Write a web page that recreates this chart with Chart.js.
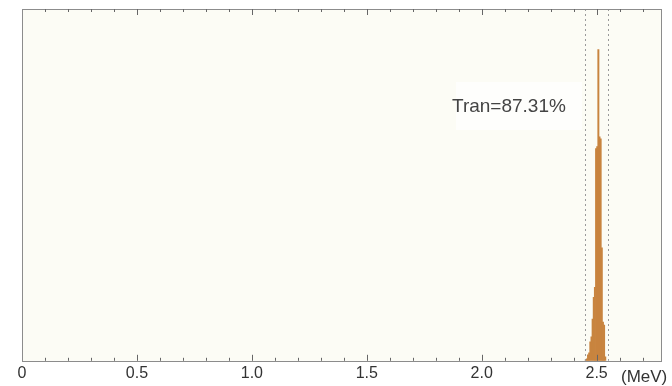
<!DOCTYPE html>
<html>
<head>
<meta charset="utf-8">
<script src="https://cdn.jsdelivr.net/npm/chart.js@4/dist/chart.umd.min.js"></script>
<style>
html,body{margin:0;padding:0;background:#fff}
#wrap{width:672px;height:386px;position:relative}
</style>
</head>
<body>
<div id="wrap"><canvas id="spec"></canvas></div>
<script>
// energy bins (MeV, bin centres, width 0.005) and counts
let binCentres=[2.4525,2.4575,2.4625,2.4675,2.4725,2.4775,2.4825,2.4875,2.4925,2.4975,2.5025,2.5075,2.5125,2.5175,2.5225,2.5275,2.5325,2.5375]
let counts=[10,20,60,80,190,240,420,640,740,2140,2160,3140,2260,2240,1140,390,360,40]
let tickLabels=["0","0.5","1.0","1.5","2.0","2.5"]
let windowEdges=[2.45,2.55]
let transText="Tran=87.31%"
let unitText="(MeV)"

let xMin=0,xMax=2.78,yMax=3550

let points=binCentres.map((c,i)=>({x:c,y:counts[i]}))

// cream plot background + faint white box behind the label
const backdrop={
id:"backdrop",
beforeDatasetsDraw(chart){
let {ctx,chartArea:a}=chart
ctx.save()
ctx.fillStyle="#fcfcf5"
ctx.fillRect(a.left,a.top,a.right-a.left,a.bottom-a.top)
ctx.fillStyle="#fefefc"
ctx.fillRect(456,82,126,48)
ctx.restore()
}
}

// frame, inward ticks, window lines and texts
const overlay={
id:"overlay",
afterDatasetsDraw(chart){
let {ctx,chartArea:a}=chart
let xs=chart.scales.x
ctx.save()
// dotted window lines
ctx.strokeStyle="#9a9a9a"
ctx.lineWidth=1
ctx.setLineDash([2,3])
windowEdges.forEach(v=>{
let px=Math.round(xs.getPixelForValue(v))+0.5
ctx.beginPath()
ctx.moveTo(px,a.top)
ctx.lineTo(px,a.bottom)
ctx.stroke()
})
ctx.setLineDash([])
// frame
ctx.strokeStyle="#8c8c8c"
ctx.strokeRect(Math.round(a.left)+0.5,Math.round(a.top)+0.5,Math.round(a.right-a.left),Math.round(a.bottom-a.top))
// inward ticks every 0.1, longer on the 0.5 marks
ctx.strokeStyle="#666"
for(let i=1;i*0.1<xMax;i++){
let px=Math.round(xs.getPixelForValue(i*0.1))+0.5
let len=(i%5==0)?6:3
ctx.beginPath()
ctx.moveTo(px,a.bottom)
ctx.lineTo(px,a.bottom-len)
ctx.moveTo(px,a.top)
ctx.lineTo(px,a.top+len)
ctx.stroke()
}
// texts
ctx.fillStyle="#444"
ctx.font="19px 'Liberation Sans', Arial, sans-serif"
ctx.textAlign="left"
ctx.textBaseline="alphabetic"
ctx.fillText(transText,452,112)
ctx.font="17px 'Liberation Sans', Arial, sans-serif"
ctx.fillStyle="#333"
ctx.fillText(unitText,621,382)
ctx.restore()
}
}

new Chart(document.getElementById("spec"),{
type:"bar",
data:{
datasets:[{
data:points,
backgroundColor:"#c8843f",
borderWidth:0,
inflateAmount:0.4,
barPercentage:1,
categoryPercentage:1
}]
},
options:{
responsive:true,
maintainAspectRatio:false,
animation:false,
layout:{padding:{left:22,right:11,top:9,bottom:0}},
plugins:{legend:{display:false},tooltip:{enabled:false}},
scales:{
x:{
type:"linear",
min:xMin,
max:xMax,
offset:false,
grid:{display:false,drawTicks:false},
border:{display:false},
afterBuildTicks(scale){
scale.ticks=tickLabels.map(t=>({value:Number(t)}))
},
ticks:{
autoSkip:false,
maxRotation:0,
padding:3,
color:"#333",
font:{family:"'Liberation Sans', Arial, sans-serif",size:16},
callback(v){
let i=tickLabels.findIndex(t=>Number(t)==v)
return i>=0?tickLabels[i]:""
}
}
},
y:{
display:false,
min:0,
max:yMax
}
}
},
plugins:[backdrop,overlay]
})
</script>
</body>
</html>
